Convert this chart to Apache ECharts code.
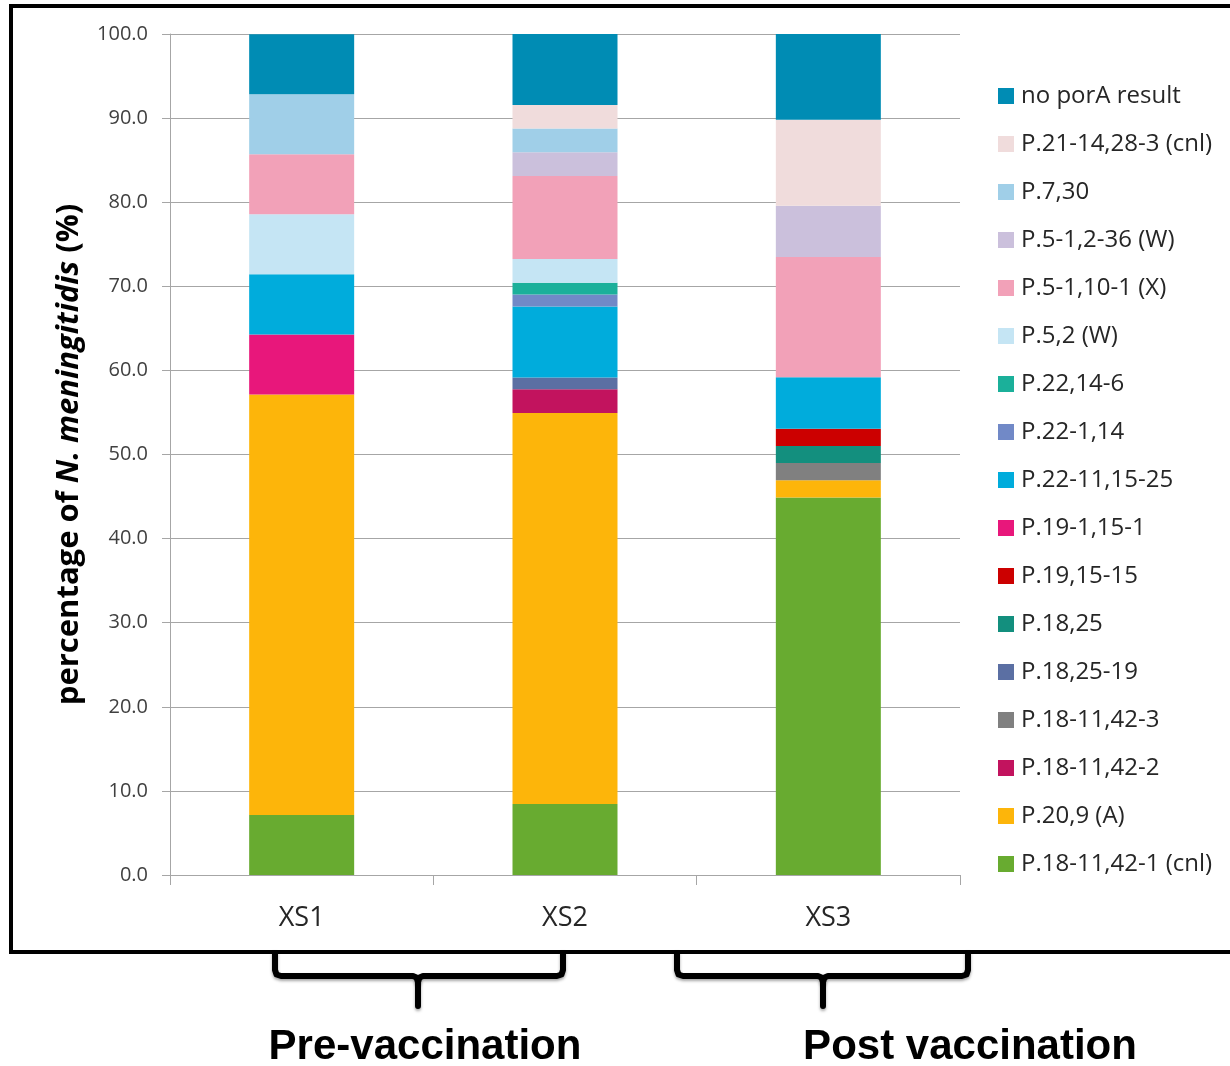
<!DOCTYPE html>
<html>
<head>
<meta charset="utf-8">
<script src="https://cdn.jsdelivr.net/npm/echarts@6/dist/echarts.min.js"></script>
<style>
  html, body { margin: 0; padding: 0; background: #fff; }
  #chart { width: 1230px; height: 1066px; }
</style>
</head>
<body>
<div id="chart"></div>
<script>
const categories = ["XS1", "XS2", "XS3"];

// stack order, bottom to top
const seriesNames = [
  "P.18-11,42-1 (cnl)", "P.20,9 (A)", "P.18-11,42-2", "P.18-11,42-3", "P.18,25-19",
  "P.18,25", "P.19,15-15", "P.19-1,15-1", "P.22-11,15-25", "P.22-1,14", "P.22,14-6",
  "P.5,2 (W)", "P.5-1,10-1 (X)", "P.5-1,2-36 (W)", "P.7,30", "P.21-14,28-3 (cnl)", "no porA result"
];

// percentages per sample, same order as seriesNames
const xs1 = [7.14, 50.00, 0, 0, 0, 0, 0, 7.14, 7.14, 0, 0, 7.14, 7.14, 0, 7.14, 0, 7.14];
const xs2 = [8.45, 46.48, 2.82, 0, 1.41, 0, 0, 0, 8.45, 1.41, 1.41, 2.82, 9.86, 2.82, 2.82, 2.82, 8.45];
const xs3 = [44.90, 2.04, 0, 2.04, 0, 2.04, 2.04, 0, 6.12, 0, 0, 0, 14.29, 6.12, 0, 10.20, 10.20];

const colors = [
  "#68ab30", "#fdb50a", "#c2135e", "#808080", "#5b6fa3",
  "#138f7e", "#cc0000", "#e8177b", "#00acdc", "#7189c7", "#1bb09a",
  "#c5e5f4", "#f2a1b8", "#cbc0dc", "#a0cfe8", "#f0dcdc", "#008cb4"
];

const yTicks = { min: 0, max: 100, interval: 10 };

const chart = echarts.init(document.getElementById("chart"));

const series = seriesNames.map((name, i) => ({
  name: name,
  type: "bar",
  stack: "total",
  barWidth: 105,
  data: [xs1[i], xs2[i], xs3[i]],
  itemStyle: { color: colors[i] },
  emphasis: { disabled: true }
}));

// curly bracket under the axis, drawn as two polylines with small rounded corners
const braceStyle = {
  fill: "none", stroke: "#000", lineWidth: 6, lineCap: "round", lineJoin: "round",
  shadowBlur: 3, shadowColor: "rgba(0,0,0,0.35)", shadowOffsetY: 2
};
const brace = (l, r, mid, top, y, bottom) => [
  {
    type: "polyline",
    shape: { points: [[l, top], [l, y - 6], [l + 1.5, y - 1.5], [l + 6, y], [mid - 5, y], [mid - 1.5, y + 1.5], [mid, y + 6], [mid, bottom]] },
    style: braceStyle
  },
  {
    type: "polyline",
    shape: { points: [[mid, y + 6], [mid + 1.5, y + 1.5], [mid + 5, y], [r - 6, y], [r - 1.5, y - 1.5], [r, y - 6], [r, top]] },
    style: braceStyle
  }
];

const option = {
  animation: false,
  textStyle: { fontFamily: "Open Sans" },
  grid: { left: 170, right: 270, top: 34, bottom: 191 },
  legend: {
    orient: "vertical",
    left: 998,
    top: 84,
    padding: 0,
    data: seriesNames.slice().reverse(),
    icon: "rect",
    itemWidth: 16,
    itemHeight: 16,
    itemGap: 24,
    textStyle: { fontSize: 24, color: "#262626", lineHeight: 24, padding: [0, 0, 0, 2] }
  },
  xAxis: {
    type: "category",
    data: categories,
    axisLine: { lineStyle: { color: "#a6a6a6", width: 1 } },
    axisTick: { show: true, length: 10, alignWithLabel: false, lineStyle: { color: "#a6a6a6" } },
    axisLabel: { fontSize: 27, color: "#262626", margin: 30 }
  },
  yAxis: {
    type: "value",
    min: yTicks.min,
    max: yTicks.max,
    interval: yTicks.interval,
    name: "{b|percentage of }{i|N. meningitidis}{b| (%)}",
    nameLocation: "middle",
    nameGap: 85,
    nameTextStyle: {
      rich: {
        b: { fontSize: 31, fontWeight: "bold", color: "#000" },
        i: { fontSize: 31, fontWeight: "bold", fontStyle: "italic", color: "#000" }
      }
    },
    axisLine: { show: true, lineStyle: { color: "#a6a6a6" } },
    axisTick: { show: true, length: 8, lineStyle: { color: "#a6a6a6" } },
    axisLabel: { fontSize: 20, color: "#404040", margin: 22, formatter: v => v.toFixed(1) },
    splitLine: { lineStyle: { color: "#a6a6a6", width: 1 } }
  },
  graphic: [
    {
      type: "rect",
      shape: { x: 11, y: 6, width: 1260, height: 946 },
      style: { fill: "none", stroke: "#000", lineWidth: 4 },
      silent: true
    },
    ...brace(275, 563, 418, 953, 976, 1006),
    ...brace(677, 968, 823, 953, 976, 1006),
    {
      type: "text",
      x: 425, y: 1047,
      style: { text: "Pre-vaccination", font: "bold 42px 'Liberation Sans'", fill: "#000",
        textAlign: "center", textVerticalAlign: "middle" }
    },
    {
      type: "text",
      x: 970, y: 1047,
      style: { text: "Post vaccination", font: "bold 42px 'Liberation Sans'", fill: "#000",
        textAlign: "center", textVerticalAlign: "middle" }
    }
  ],
  series: series
};

chart.setOption(option);
</script>
</body>
</html>
